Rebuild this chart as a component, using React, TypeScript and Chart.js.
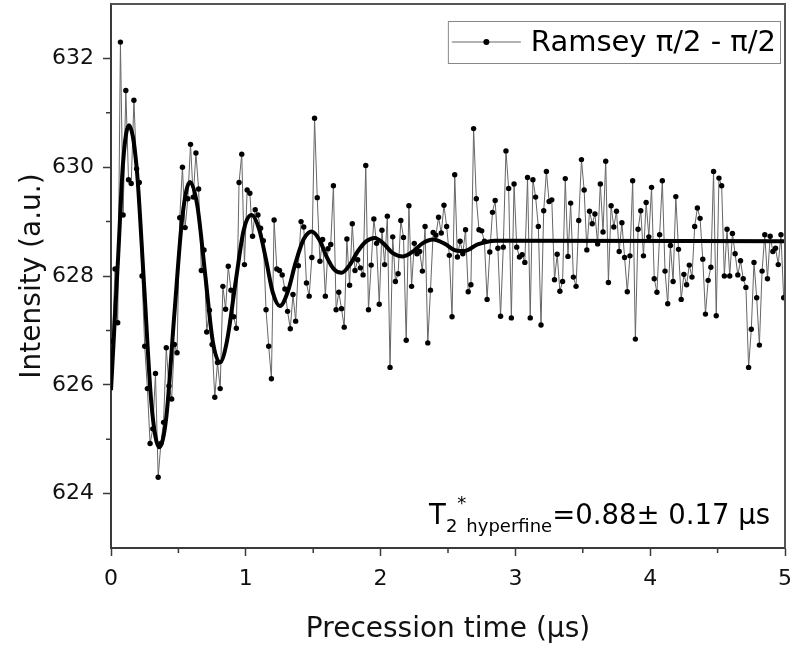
import React, { useEffect, useRef } from 'react';
import { Chart, registerables } from 'chart.js';

Chart.register(...registerables);

// ---- data ----
const firstTimeUs = 0.01;
const timeStepUs = 0.02;
const intensity = [
  626.8, 628.13, 627.14, 632.3, 629.12, 631.41, 629.77, 629.7, 631.23, 629.97,
  629.72, 628.0, 626.71, 625.93, 624.92, 625.19, 626.21, 624.3, 624.92, 625.31,
  626.68, 625.98, 625.74, 626.74, 626.59, 629.07, 630.0, 628.89, 629.42, 630.42,
  629.45, 630.26, 629.6, 628.1, 628.48, 626.97, 627.37, 626.74, 625.77, 626.41,
  625.93, 627.81, 627.39, 628.18, 627.74, 627.25, 627.04, 629.72, 630.24, 628.21,
  629.58, 629.52, 628.73, 629.22, 629.12, 628.88, 628.65, 627.38, 626.71, 626.11,
  629.03, 628.13, 628.1, 628.02, 627.76, 627.35, 627.03, 627.66, 627.17, 628.19,
  629.0, 628.9, 627.87, 627.63, 628.34, 630.9, 629.44, 628.27, 628.67, 627.63,
  628.5, 628.58, 629.66, 627.38, 627.7, 627.4, 627.06, 628.68, 627.83, 628.96,
  628.1, 628.3, 628.15, 628.02, 630.03, 627.38, 628.2, 629.05, 628.6, 627.48,
  628.84, 628.21, 629.1, 626.32, 628.72, 627.9, 628.04, 629.02, 628.71, 626.82,
  629.29, 627.81, 628.6, 628.41, 628.45, 628.09, 628.91, 626.77, 627.74, 628.8,
  628.75, 629.08, 628.79, 629.3, 628.91, 628.38, 627.25, 629.86, 628.35, 628.64,
  628.41, 628.85, 627.71, 627.84, 630.71, 629.42, 628.85, 628.83, 628.64, 627.57,
  628.44, 629.17, 629.39, 628.51, 627.26, 628.53, 630.3, 629.61, 627.23, 629.69,
  628.53, 628.35, 628.39, 628.25, 629.81, 627.23, 629.77, 629.45, 628.91, 627.1,
  629.2, 629.92, 629.37, 629.4, 627.93, 628.4, 627.72, 627.9, 629.79, 628.36,
  629.34, 627.98, 627.81, 629.02, 630.14, 629.58, 628.48, 629.19, 628.96, 629.14,
  628.59, 629.69, 628.81, 630.11, 627.88, 629.29, 628.9, 629.19, 628.45, 628.98,
  628.34, 627.71, 628.37, 629.75, 626.84, 628.86, 629.2, 628.37, 629.35, 628.72,
  629.63, 627.95, 627.7, 628.76, 629.75, 628.09, 627.49, 628.56, 627.9, 629.46,
  628.49, 627.57, 628.03, 627.84, 628.2, 627.98, 628.91, 629.25, 629.06, 628.31,
  627.3, 627.92, 628.16, 629.92, 627.27, 629.8, 629.66, 628.0, 628.86, 628.0,
  628.78, 628.41, 628.02, 628.28, 627.95, 627.79, 626.32, 627.02, 628.25, 627.6,
  626.73, 628.09, 628.76, 627.95, 628.73, 628.45, 628.51, 628.21, 628.76, 627.6,
];
const times = intensity.map((_, i) => +(firstTimeUs + i * timeStepUs).toFixed(3));

// fitted curve
const fitTimes = [
  0.0, 0.054, 0.09, 0.133, 0.19, 0.245, 0.3, 0.358, 0.41, 0.47, 0.53, 0.586,
  0.64, 0.7, 0.755, 0.808, 0.86, 0.925, 0.985, 1.043, 1.1, 1.15, 1.2, 1.253,
  1.31, 1.37, 1.43, 1.488, 1.55, 1.6, 1.655, 1.71, 1.77, 1.83, 1.895, 1.957,
  2.02, 2.09, 2.167, 2.24, 2.31, 2.39, 2.47, 2.56, 2.62, 2.72, 2.85, 5.0,
];
const fitValues = [
  625.9, 628.4, 630.1, 630.77, 630.0, 627.85, 625.65, 624.85, 625.4, 627.3, 629.1, 629.73,
  629.3, 628.0, 626.8, 626.41, 626.8, 627.9, 628.85, 629.12, 628.85, 628.3, 627.7, 627.45,
  627.7, 628.25, 628.68, 628.82, 628.65, 628.35, 628.12, 628.06, 628.2, 628.45, 628.64, 628.7,
  628.6, 628.42, 628.36, 628.45, 628.6, 628.67, 628.6, 628.47, 628.46, 628.58, 628.65, 628.64,
];

const xMajorTicks = [0, 1, 2, 3, 4, 5];
const xMinorTicks = [0.5, 1.5, 2.5, 3.5, 4.5];
const yMajorTicks = [624, 626, 628, 630, 632];
const yMinorTicks = [625, 627, 629, 631];

const legendLabel = 'Ramsey π/2 - π/2';
const xTitle = 'Precession time (μs)';
const yTitle = 'Intensity (a.u.)';
const noteMain = 'T';
const noteSub1 = '2';
const noteSup = '*';
const noteSub2 = 'hyperfine';
const noteRest = '=0.88± 0.17 μs';

const FONT = '"DejaVu Sans", Verdana, sans-serif';
const AXIS_COLOR = '#3a3a3a';

const decorPlugin = {
  id: 'decor',
  afterDraw(chart: any) {
    const { ctx, chartArea: a, scales } = chart;
    ctx.save();
    // frame top/right
    ctx.strokeStyle = '#555';
    ctx.lineWidth = 2;
    ctx.beginPath();
    ctx.moveTo(a.left, a.top);
    ctx.lineTo(a.right, a.top);
    ctx.lineTo(a.right, a.bottom);
    ctx.stroke();
    // minor ticks
    ctx.strokeStyle = AXIS_COLOR;
    ctx.lineWidth = 1.5;
    ctx.beginPath();
    xMinorTicks.forEach((v) => {
      const x = scales.x.getPixelForValue(v);
      ctx.moveTo(x, a.bottom);
      ctx.lineTo(x, a.bottom + 5);
    });
    yMinorTicks.forEach((v) => {
      const y = scales.y.getPixelForValue(v);
      ctx.moveTo(a.left, y);
      ctx.lineTo(a.left - 5, y);
    });
    ctx.stroke();

    // legend
    ctx.font = `29px ${FONT}`;
    const tw = ctx.measureText(legendLabel).width;
    const boxRight = a.right - 5;
    const boxTop = a.top + 17;
    const boxH = 42;
    const symW = 69;
    const boxLeft = boxRight - (4 + symW + 10 + tw + 4);
    ctx.strokeStyle = '#888';
    ctx.lineWidth = 1;
    ctx.fillStyle = '#fff';
    ctx.fillRect(boxLeft, boxTop, boxRight - boxLeft, boxH);
    ctx.strokeRect(boxLeft + 0.5, boxTop + 0.5, boxRight - boxLeft, boxH);
    const cy = boxTop + boxH / 2;
    ctx.strokeStyle = '#666';
    ctx.beginPath();
    ctx.moveTo(boxLeft + 4, cy);
    ctx.lineTo(boxLeft + 4 + symW, cy);
    ctx.stroke();
    ctx.fillStyle = '#000';
    ctx.beginPath();
    ctx.arc(boxLeft + 4 + symW / 2, cy, 3, 0, Math.PI * 2);
    ctx.fill();
    ctx.textBaseline = 'middle';
    ctx.textAlign = 'left';
    ctx.fillText(legendLabel, boxLeft + 4 + symW + 10, cy + 1);

    // annotation
    const big = `27.5px ${FONT}`;
    const small = `18px ${FONT}`;
    ctx.textBaseline = 'alphabetic';
    ctx.font = big;
    const wT = ctx.measureText(noteMain).width;
    const wRest = ctx.measureText(noteRest).width;
    ctx.font = small;
    const w2 = ctx.measureText(noteSub1).width;
    const wStar = ctx.measureText(noteSup).width;
    const wH = ctx.measureText(noteSub2).width;
    const total = wT + w2 + wStar + wH + wRest;
    let x = a.right - 15 - total;
    const base = a.bottom - 24;
    ctx.font = big;
    ctx.fillText(noteMain, x, base);
    x += wT;
    ctx.font = small;
    ctx.fillText(noteSub1, x, base + 8);
    x += w2;
    ctx.fillText(noteSup, x, base - 15);
    x += wStar;
    ctx.fillText(noteSub2, x, base + 8);
    x += wH;
    ctx.font = big;
    ctx.fillText(noteRest, x, base);
    ctx.restore();
  },
};

export default function App() {
  const ref = useRef<HTMLCanvasElement>(null);
  useEffect(() => {
    if (!ref.current) return;
    const chart = new Chart(ref.current, {
      type: 'line',
      data: {
        datasets: [
          {
            label: 'fit',
            data: fitTimes.map((t, i) => ({ x: t, y: fitValues[i] })),
            borderColor: '#000',
            borderWidth: 4,
            pointRadius: 0,
            cubicInterpolationMode: 'monotone',
            fill: false,
            order: 0,
          },
          {
            label: legendLabel,
            data: times.map((t, i) => ({ x: t, y: intensity[i] })),
            borderColor: '#666',
            borderWidth: 1,
            pointRadius: 2.7,
            pointBackgroundColor: '#000',
            pointBorderColor: '#000',
            pointBorderWidth: 0,
            tension: 0,
            fill: false,
            order: 1,
          },
        ],
      },
      options: {
        responsive: false,
        animation: false,
        layout: { padding: { left: 0, top: 3, right: 6, bottom: 0 } },
        plugins: { legend: { display: false }, tooltip: { enabled: false } },
        scales: {
          x: {
            type: 'linear',
            min: 0,
            max: 5,
            afterBuildTicks: (s: any) => {
              s.ticks = xMajorTicks.map((v) => ({ value: v }));
            },
            afterFit: (s: any) => {
              s.height = 99;
              s.paddingLeft = 0;
              s.paddingRight = 0;
            },
            grid: { display: true, drawOnChartArea: false, drawTicks: true, tickLength: 8, tickColor: AXIS_COLOR, tickWidth: 1.5 },
            border: { display: true, color: AXIS_COLOR, width: 2 },
            ticks: { color: '#111', font: { family: FONT, size: 22 }, padding: 10, maxRotation: 0 },
            title: { display: true, text: xTitle, color: '#111', font: { family: FONT, size: 28 }, padding: { top: 0, bottom: 0 } },
          },
          y: {
            type: 'linear',
            min: 623,
            max: 633,
            afterBuildTicks: (s: any) => {
              s.ticks = yMajorTicks.map((v) => ({ value: v }));
            },
            afterFit: (s: any) => {
              s.width = 111;
              s.paddingTop = 0;
              s.paddingBottom = 0;
            },
            grid: { display: true, drawOnChartArea: false, drawTicks: true, tickLength: 8, tickColor: AXIS_COLOR, tickWidth: 1.5 },
            border: { display: true, color: AXIS_COLOR, width: 2 },
            ticks: { color: '#111', font: { family: FONT, size: 22 }, padding: 9 },
            title: { display: true, text: yTitle, color: '#111', font: { family: FONT, size: 28 }, padding: { top: 16, bottom: 0 } },
          },
        },
      },
      plugins: [decorPlugin],
    } as any);
    return () => chart.destroy();
  }, []);
  return (
    <div style={{ position: 'fixed', left: 0, top: 0, width: 791, height: 647, background: '#fff' }}>
      <canvas ref={ref} width={791} height={647} />
    </div>
  );
}
